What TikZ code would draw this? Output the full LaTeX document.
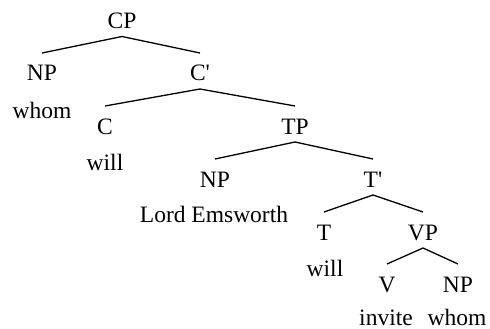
\documentclass[tikz,border=0pt]{standalone}
\usepackage{fontspec}
\setmainfont{Liberation Serif}
\begin{document}
\begin{tikzpicture}[x=1pt,y=-1pt,
  lab/.style={anchor=base,inner sep=0pt,font=\fontsize{23.5}{28}\selectfont},
  branch/.style={line width=1.3pt,black},
  up/.style={yshift=-8pt},
  down/.style={yshift=28pt}]
\useasboundingbox (0,0) rectangle (490,329);
% categories
\node[lab] (cp)  at (122,28.5) {CP};
\node[lab] (np1) at (42,81)    {NP};
\node[lab] (cb)  at (200,81)   {C\textquotesingle};
\node[lab] (c)   at (105,134)  {C};
\node[lab] (tp)  at (295,134)  {TP};
\node[lab] (np2) at (215,187)  {NP};
\node[lab] (tb)  at (373,187)  {T\textquotesingle};
\node[lab] (t)   at (324,240)  {T};
\node[lab] (vp)  at (423,240)  {VP};
\node[lab] (v)   at (387,292)  {V};
\node[lab] (np3) at (458,292)  {NP};
% words
\node[lab] (w1) at (42,118)  {whom};
\node[lab] (w2) at (105,170) {will};
\node[lab] (w3) at (214,222) {Lord Emsworth};
\node[lab] (w4) at (325,276) {will};
\node[lab] (w5) at (386,325.5) {invite};
\node[lab] (w6) at (457,325.5) {whom};
% branches
\draw[branch] ([down]np1.base) -- ([up]cp.base) -- ([down]cb.base);
\draw[branch] ([down]c.base) -- ([up]cb.base) -- ([down]tp.base);
\draw[branch] ([down]np2.base) -- ([up]tp.base) -- ([down]tb.base);
\draw[branch] ([down]t.base) -- ([up]tb.base) -- ([down]vp.base);
\draw[branch] ([down]v.base) -- ([up]vp.base) -- ([down]np3.base);
\end{tikzpicture}
\end{document}
